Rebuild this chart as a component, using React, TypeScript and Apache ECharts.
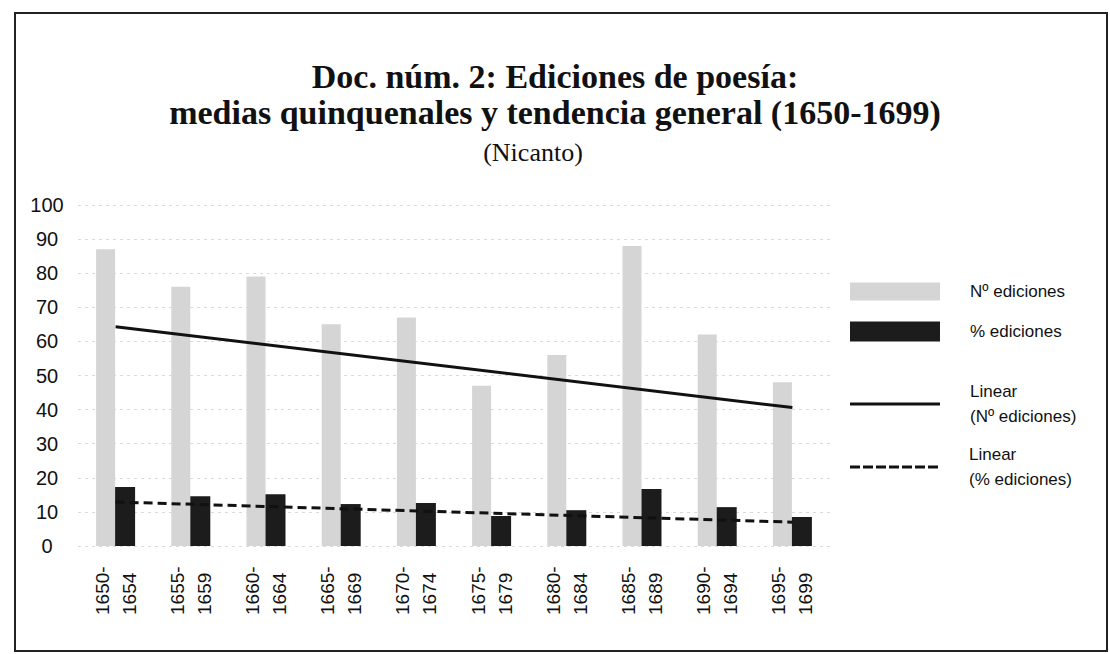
import React, { useEffect, useRef } from "react";
import * as echarts from "echarts";

const periods = [
  "1650-\n1654", "1655-\n1659", "1660-\n1664", "1665-\n1669", "1670-\n1674",
  "1675-\n1679", "1680-\n1684", "1685-\n1689", "1690-\n1694", "1695-\n1699",
];
const numEdiciones = [87, 76, 79, 65, 67, 47, 56, 88, 62, 48];
const pctEdiciones = [17.3, 14.6, 15.2, 12.3, 12.6, 8.8, 10.5, 16.7, 11.4, 8.5];
const trendNum = [64.3, null, null, null, null, null, null, null, null, 40.6];
const trendPct = [12.9, null, null, null, null, null, null, null, null, 7.0];

const sans = "'Liberation Sans', Arial, sans-serif";
const serif = "'Liberation Serif', 'Times New Roman', serif";
const dashIcon =
  "path://M0,0h10v3h-10z M13,0h10v3h-10z M26,0h10v3h-10z M39,0h10v3h-10z M52,0h10v3h-10z M65,0h10v3h-10z M78,0h10v3h-10z";

export default function App() {
  const ref = useRef<HTMLDivElement>(null);
  useEffect(() => {
    document.body.style.margin = "0";
    const chart = echarts.init(ref.current!, null, { renderer: "svg" });
    const legendBase = {
      orient: "vertical" as const,
      left: 845,
      itemWidth: 90,
      selectedMode: false,
      textStyle: {
        fontFamily: sans,
        fontSize: 17,
        color: "#111",
        lineHeight: 25,
        padding: [0, 0, 0, 25],
      },
    };
    chart.setOption({
      animation: false,
      backgroundColor: "#fff",
      title: [
        {
          text: "Doc. núm. 2: Ediciones de poesía:\nmedias quinquenales y tendencia general (1650-1699)",
          left: 550,
          top: 53,
          textAlign: "center",
          textStyle: { fontFamily: serif, fontSize: 34, fontWeight: "bold", lineHeight: 36, color: "#111" },
        },
        {
          text: "(Nicanto)",
          left: 528,
          top: 132,
          textAlign: "center",
          textStyle: { fontFamily: serif, fontSize: 26, fontWeight: "normal", lineHeight: 30, color: "#111" },
        },
      ],
      legend: [
        { ...legendBase, top: 274, itemHeight: 18, data: [{ name: "Nº ediciones", icon: "rect" }] },
        { ...legendBase, top: 314, itemHeight: 20, data: [{ name: "% ediciones", icon: "rect" }] },
        { ...legendBase, top: 374, itemHeight: 3, data: [{ name: "Linear\n(Nº ediciones)", icon: "rect" }] },
        { ...legendBase, top: 437, itemHeight: 3, data: [{ name: "Linear\n(% ediciones)", icon: dashIcon }] },
      ],
      grid: { left: 78, right: 280, top: 205, bottom: 108 },
      xAxis: {
        type: "category",
        data: periods,
        axisLine: { show: false },
        axisTick: { show: false },
        axisLabel: {
          rotate: 90,
          align: "left",
          margin: 69,
          fontFamily: sans,
          fontSize: 19,
          lineHeight: 27,
          color: "#111",
          interval: 0,
        },
      },
      yAxis: {
        type: "value",
        min: 0,
        max: 100,
        interval: 10,
        axisLine: { show: false },
        axisTick: { show: false },
        axisLabel: { align: "center", margin: 31, fontFamily: sans, fontSize: 20, color: "#111" },
        splitLine: { lineStyle: { color: "#d9d9d9", type: [3, 4], width: 1 } },
      },
      series: [
        {
          name: "Nº ediciones",
          type: "bar",
          data: numEdiciones,
          barWidth: 19,
          barGap: "0%",
          itemStyle: { color: "#d5d5d5" },
        },
        {
          name: "% ediciones",
          type: "bar",
          data: pctEdiciones,
          barWidth: 20,
          itemStyle: { color: "#1c1c1c" },
        },
        {
          name: "Linear\n(Nº ediciones)",
          type: "line",
          data: trendNum,
          connectNulls: true,
          symbol: "none",
          itemStyle: { color: "#111" },
          lineStyle: { color: "#111", width: 3, type: "solid" },
          z: 5,
        },
        {
          name: "Linear\n(% ediciones)",
          type: "line",
          data: trendPct,
          connectNulls: true,
          symbol: "none",
          itemStyle: { color: "#111" },
          lineStyle: { color: "#111", width: 3, type: [9, 5] },
          z: 5,
        },
      ],
      graphic: [
        {
          type: "rect",
          shape: { x: 15, y: 13, width: 1092, height: 638 },
          style: { fill: "none", stroke: "#222", lineWidth: 2 },
          silent: true,
        },
      ],
    });
    return () => chart.dispose();
  }, []);
  return <div ref={ref} style={{ width: 1110, height: 654 }} />;
}
